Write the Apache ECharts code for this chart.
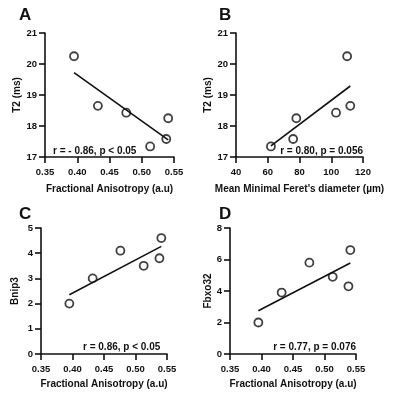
<!DOCTYPE html>
<html>
<head>
<meta charset="utf-8">
<script src="https://cdn.jsdelivr.net/npm/echarts@6/dist/echarts.min.js"></script>
<style>
  html, body { margin: 0; padding: 0; background: #fff; }
  #main { width: 397px; height: 400px; }
</style>
</head>
<body>
<div id="main"></div>
<script>
// values (same six subjects in every panel)
var faValues = [0.395, 0.432, 0.476, 0.513, 0.538, 0.541];
var t2Values = [20.25, 18.65, 18.43, 17.34, 17.58, 18.25];
var feretValues = [110, 112, 103, 62, 76, 78];
var bnip3Values = [2.0, 3.0, 4.1, 3.5, 3.8, 4.6];
var fbxo32Values = [2.0, 3.9, 5.8, 4.9, 4.3, 6.6];

// regression line end points as drawn
var fitA = [[0.395, 19.72], [0.541, 17.55]];
var fitB = [[62, 17.36], [112, 19.29]];
var fitC = [[0.395, 2.35], [0.541, 4.27]];
var fitD = [[0.395, 2.75], [0.541, 5.78]];

var panelLetters = ['A', 'B', 'C', 'D'];
var statTexts = ['r = - 0.86, p < 0.05', 'r = 0.80, p = 0.056', 'r = 0.86, p < 0.05', 'r = 0.77, p = 0.076'];
var xNames = ['Fractional Anisotropy (a.u)', "Mean Minimal Feret's diameter (\u00b5m)", 'Fractional Anisotropy (a.u)', 'Fractional Anisotropy (a.u)'];
var yNames = ['T2 (ms)', 'T2 (ms)', 'Bnip3', 'Fbxo32'];

var FONT = '"Liberation Sans", Arial, sans-serif';

function pairs(xs, ys) {
  var out = [];
  for (var i = 0; i < xs.length; i++) out.push([xs[i], ys[i]]);
  return out;
}

var grids = [
  { left: 45, top: 33, width: 129, height: 124 },
  { left: 236, top: 33, width: 127, height: 124 },
  { left: 41, top: 228, width: 126, height: 126 },
  { left: 230, top: 228, width: 126, height: 126 }
];

var xRanges = [
  { min: 0.35, max: 0.55, interval: 0.05, fmt: function (v) { return v.toFixed(2); } },
  { min: 40, max: 120, interval: 20, fmt: function (v) { return v; } },
  { min: 0.35, max: 0.55, interval: 0.05, fmt: function (v) { return v.toFixed(2); } },
  { min: 0.35, max: 0.55, interval: 0.05, fmt: function (v) { return v.toFixed(2); } }
];
var yRanges = [
  { min: 17, max: 21, interval: 1 },
  { min: 17, max: 21, interval: 1 },
  { min: 0, max: 5, interval: 1 },
  { min: 0, max: 8, interval: 2 }
];
var yNameGaps = [22, 19, 21, 17];

var axisLine = { show: true, lineStyle: { color: '#111', width: 1.6 } };
var axisTick = { show: true, length: 6, lineStyle: { color: '#111', width: 1.6 } };

var xAxes = [], yAxes = [], series = [];
for (var i = 0; i < 4; i++) {
  xAxes.push({
    type: 'value', gridIndex: i,
    min: xRanges[i].min, max: xRanges[i].max, interval: xRanges[i].interval,
    axisLine: axisLine, axisTick: axisTick, splitLine: { show: false },
    axisLabel: { color: '#111', fontFamily: FONT, fontWeight: 'bold', fontSize: 9.5, margin: 10, formatter: xRanges[i].fmt },
    name: xNames[i], nameLocation: 'middle', nameGap: i < 2 ? 27 : 25,
    nameTextStyle: { color: '#111', fontFamily: FONT, fontWeight: 'bold', fontSize: 10 }
  });
  yAxes.push({
    type: 'value', gridIndex: i,
    min: yRanges[i].min, max: yRanges[i].max, interval: yRanges[i].interval,
    axisLine: axisLine, axisTick: axisTick, splitLine: { show: false },
    axisLabel: { color: '#111', fontFamily: FONT, fontWeight: 'bold', fontSize: 9.5, margin: 8 },
    name: yNames[i], nameLocation: 'middle', nameGap: yNameGaps[i],
    nameTextStyle: { color: '#111', fontFamily: FONT, fontWeight: 'bold', fontSize: 10 }
  });
}

var scatterSets = [
  pairs(faValues, t2Values),
  pairs(feretValues, t2Values),
  pairs(faValues, bnip3Values),
  pairs(faValues, fbxo32Values)
];
var fitSets = [fitA, fitB, fitC, fitD];

for (var j = 0; j < 4; j++) {
  series.push({
    type: 'line', xAxisIndex: j, yAxisIndex: j,
    data: fitSets[j], symbol: 'none', silent: true,
    lineStyle: { color: '#111', width: 1.6 }
  });
  series.push({
    type: 'scatter', xAxisIndex: j, yAxisIndex: j,
    data: scatterSets[j], symbol: 'circle', symbolSize: 8,
    itemStyle: { color: 'rgba(255,255,255,0)', borderColor: '#111', borderWidth: 1.8 }
  });
}

var letterPos = [[19, 7], [219, 7], [19, 206], [219, 206]];
var statPos = [[53, 151], [363, 151], [83, 347], [356, 347]];
var statAlign = ['left', 'right', 'left', 'right'];

var graphics = [];
for (var k = 0; k < 4; k++) {
  graphics.push({
    type: 'text', left: letterPos[k][0], top: letterPos[k][1],
    style: { text: panelLetters[k], font: 'bold 17px ' + FONT, fill: '#111' }
  });
  graphics.push({
    type: 'text', x: statPos[k][0], y: statPos[k][1],
    style: { text: statTexts[k], font: 'bold 10px ' + FONT, fill: '#111', align: statAlign[k], verticalAlign: 'middle' }
  });
}

var chart = echarts.init(document.getElementById('main'), null, { renderer: 'canvas' });
chart.setOption({
  backgroundColor: '#fff',
  animation: false,
  grid: grids,
  xAxis: xAxes,
  yAxis: yAxes,
  series: series,
  graphic: graphics
});
</script>
</body>
</html>
